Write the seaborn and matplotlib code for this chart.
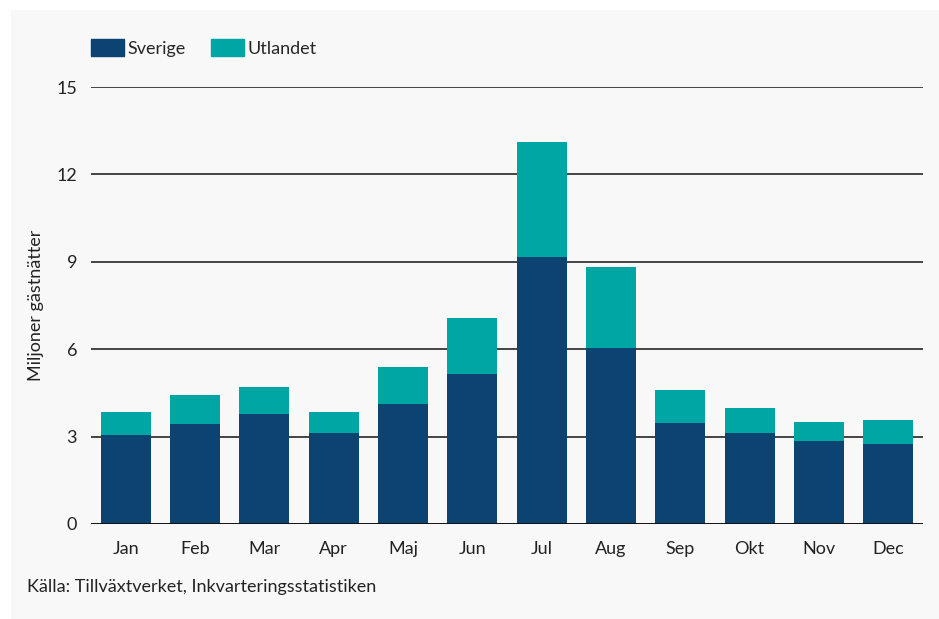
import matplotlib
matplotlib.use("Agg")
import matplotlib.pyplot as plt
import matplotlib.patches as mpatches
import seaborn as sns
import pandas as pd

months = ["Jan", "Feb", "Mar", "Apr", "Maj", "Jun", "Jul", "Aug", "Sep", "Okt", "Nov", "Dec"]
sverige = [3.06, 3.43, 3.78, 3.12, 4.12, 5.15, 9.17, 6.04, 3.47, 3.12, 2.85, 2.75]
utlandet = [0.78, 1.00, 0.92, 0.72, 1.27, 1.92, 3.94, 2.78, 1.13, 0.86, 0.65, 0.82]
yticks = [0, 3, 6, 9, 12, 15]

navy = "#0b4373"
teal = "#00a6a4"
FS = 13

df = pd.DataFrame({"month": months, "sverige": sverige, "utlandet": utlandet})
df["total"] = df["sverige"] + df["utlandet"]

sns.set_theme(style="white")
plt.rcParams["font.family"] = ["Lato", "DejaVu Sans"]

fig = plt.figure(figsize=(9.39, 6.19), dpi=100)
fig.patch.set_facecolor("white")
fig.patches.append(mpatches.Rectangle((11 / 939, 0), 1 - 11 / 939, 1 - 10 / 619,
                                      transform=fig.transFigure, facecolor="#f8f8f8",
                                      edgecolor="none", zorder=-10))

ax = fig.add_axes([91 / 939, 1 - 524 / 619, (923 - 91) / 939, (524 - 87) / 619])
ax.set_facecolor("none")

sns.barplot(data=df, x="month", y="total", color=teal, width=0.72, ax=ax,
            saturation=1, zorder=3, linewidth=0, edgecolor="none")
sns.barplot(data=df, x="month", y="sverige", color=navy, width=0.72, ax=ax,
            saturation=1, zorder=3, linewidth=0, edgecolor="none")

ax.set_ylim(0, 15)
ax.set_xlim(-0.5, 11.5)
ax.set_yticks(yticks)
ax.set_yticklabels([str(t) for t in yticks], fontsize=FS, color="#222222")
ax.tick_params(axis="x", labelsize=FS, colors="#222222", length=0, pad=12)
ax.tick_params(axis="y", length=0, pad=10)
for t in yticks[1:]:
    ax.axhline(t, color="#444444", lw=1.4, zorder=1)
ax.axhline(0, color="#111111", lw=1.4, zorder=4)
for s in ax.spines.values():
    s.set_visible(False)
ax.set_xlabel("")
ax.set_ylabel("Miljoner gästnätter", fontsize=FS, color="#222222", labelpad=9)

handles = [mpatches.Patch(color=navy, label="Sverige"),
           mpatches.Patch(color=teal, label="Utlandet")]
fig.legend(handles=handles, loc="center left", bbox_to_anchor=(91 / 939, 1 - 48 / 619),
           ncol=2, frameon=False, fontsize=FS, handlelength=1.83, handleheight=1.05,
           handletextpad=0.2, columnspacing=1.4, borderpad=0, borderaxespad=0)

fig.text(27 / 939, 1 - 587 / 619, "Källa: Tillväxtverket, Inkvarteringsstatistiken",
         fontsize=FS, color="#222222", va="center", ha="left")

fig.savefig("out.png", dpi=100, facecolor=fig.get_facecolor())
